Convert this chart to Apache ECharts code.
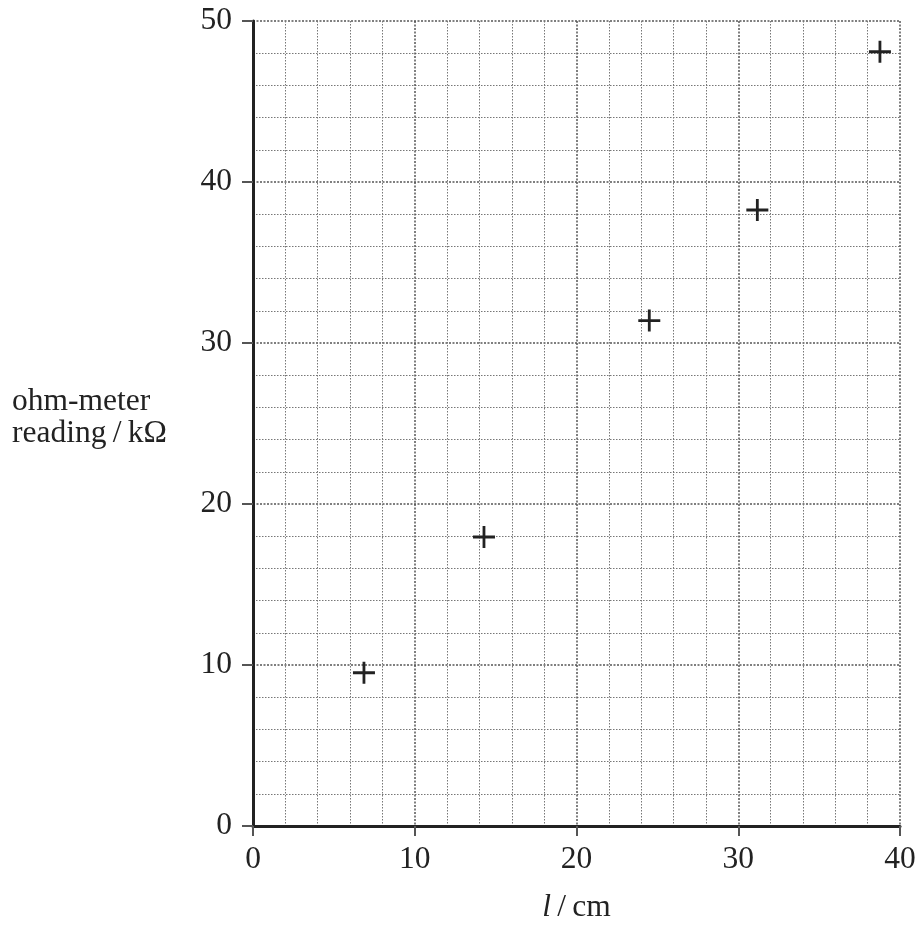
<!DOCTYPE html>
<html>
<head>
<meta charset="utf-8">
<script src="https://cdn.jsdelivr.net/npm/echarts@6/dist/echarts.min.js"></script>
<style>html,body{margin:0;padding:0;background:#fff;}#c{width:920px;height:929px;}</style>
</head>
<body>
<div id="c"></div>
<script>
var lengthCm = [6.86, 14.28, 24.5, 31.18, 38.76];
var readingKOhm = [9.52, 17.95, 31.39, 38.26, 48.09];
var xTicks = [0, 10, 20, 30, 40];
var yTicks = [0, 10, 20, 30, 40, 50];

var points = lengthCm.map(function (x, i) { return [x, readingKOhm[i]]; });
var FONT = '"Liberation Serif", "DejaVu Serif", serif';
var FS = 31.5;
var chart = echarts.init(document.getElementById('c'), null, {renderer: 'canvas'});
var plus = 'path://M0,9.6H9.6V0H12.4V9.6H22V12.4H12.4V22H9.6V12.4H0Z';

chart.setOption({
  animation: false,
  backgroundColor: '#fff',
  grid: {left: 253, right: 20, top: 21, bottom: 103, containLabel: false},
  xAxis: {
    type: 'value', min: xTicks[0], max: xTicks[xTicks.length - 1], interval: 10,
    axisLine: {show: true, onZero: false, lineStyle: {color: '#222', width: 3}},
    axisTick: {show: true, length: 10, lineStyle: {color: '#555', width: 2}},
    minorTick: {show: false, splitNumber: 5},
    axisLabel: {show: true, margin: 18, color: '#222', fontFamily: FONT, fontSize: FS,
      formatter: function (v) { return xTicks.indexOf(v) >= 0 ? String(v) : ''; }},
    splitLine: {show: true, lineStyle: {color: '#555', width: 1.5, type: [2, 1.5]}},
    minorSplitLine: {show: true, lineStyle: {color: '#777', width: 1, type: [1.5, 1.5]}},
    name: '{i|l}\u2009/\u2009cm', nameLocation: 'middle', nameGap: 66,
    nameTextStyle: {color: '#222', fontFamily: FONT, fontSize: FS,
      rich: {i: {fontStyle: 'italic', fontFamily: FONT, fontSize: FS, color: '#222'}}}
  },
  yAxis: {
    type: 'value', min: yTicks[0], max: yTicks[yTicks.length - 1], interval: 10,
    axisLine: {show: true, onZero: false, lineStyle: {color: '#222', width: 3}},
    axisTick: {show: true, length: 11, lineStyle: {color: '#555', width: 2}},
    minorTick: {show: false, splitNumber: 5},
    axisLabel: {show: true, margin: 21, color: '#222', fontFamily: FONT, fontSize: FS,
      formatter: function (v) { return yTicks.indexOf(v) >= 0 ? String(v) : ''; }},
    splitLine: {show: true, lineStyle: {color: '#555', width: 1.5, type: [2, 1.5]}},
    minorSplitLine: {show: true, lineStyle: {color: '#777', width: 1, type: [1.5, 1.5]}}
  },
  graphic: [{
    type: 'text', left: 12, top: 386,
    style: {text: 'ohm-meter\nreading\u2009/\u2009kΩ', fontFamily: FONT, fontSize: FS, lineHeight: 32, fill: '#222'}
  }],
  series: [{
    type: 'scatter', data: points, symbol: plus, symbolSize: 22,
    itemStyle: {color: '#222', opacity: 1}, z: 10
  }]
});
</script>
</body>
</html>
